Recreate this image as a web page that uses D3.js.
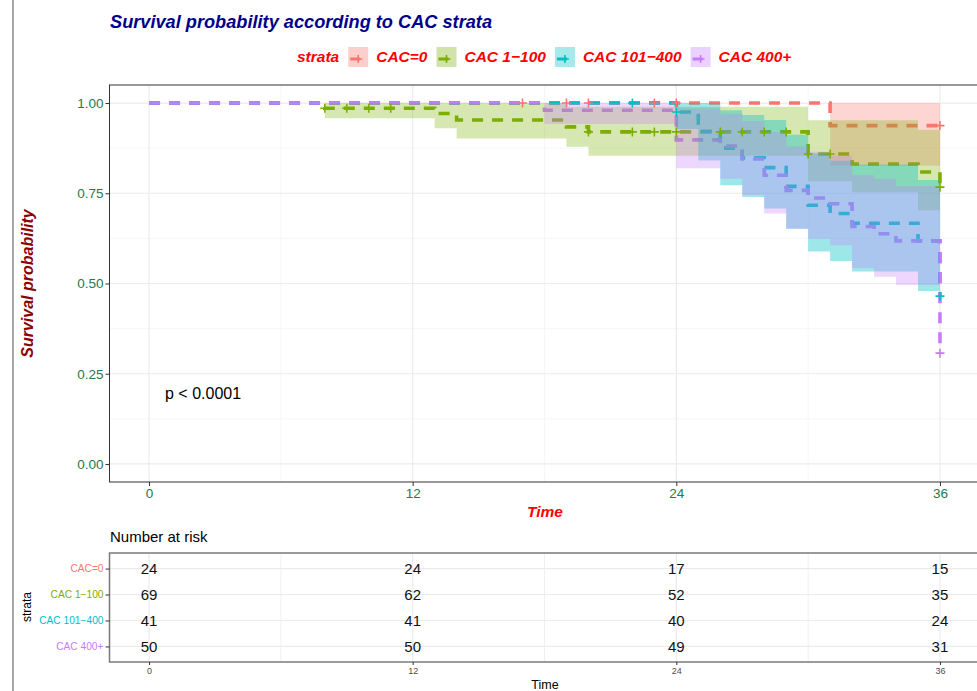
<!DOCTYPE html>
<html><head><meta charset="utf-8">
<script src="https://cdn.jsdelivr.net/npm/d3@7"></script>
<style>
body{margin:0;background:#fff;}
svg{display:block;font-family:"Liberation Sans",Arial,Helvetica,sans-serif;}
</style>
</head><body>
<svg id="chart" width="977" height="691"></svg>
<script>
// ---------------- data ----------------
const strata = ["CAC=0", "CAC 1\u2212100", "CAC 101\u2212400", "CAC 400+"];
const palette = ["#F8766D", "#7CAE00", "#00BFC4", "#C77CFF"];
const fillAlpha = [0.3, 0.3, 0.38, 0.3];

const timeTicks = [0, 12, 24, 36];
const timeMinor = [6, 18, 30];
const survTicks = [0, 0.25, 0.5, 0.75, 1];
const survMinor = [0.125, 0.375, 0.625, 0.875];

// CAC=0
const cac0Time   = [0, 31, 36];
const cac0Surv   = [1, 0.9375, 0.9375];
const cac0Upper  = [1, 1, 1];
const cac0Lower  = [1, 0.826, 0.826];
const cac0Censor = [17, 19, 20, 23, 24, 36];

// CAC 1-100
const cac1Time   = [0, 8, 13, 14, 19, 20, 30, 32, 35, 36];
const cac1Surv   = [1, 0.9855, 0.971, 0.953, 0.934, 0.92, 0.859, 0.831, 0.809, 0.767];
const cac1Upper  = [1, 1, 1, 1, 0.99, 0.99, 0.952, 0.952, 0.926, 0.926];
const cac1Lower  = [1, 0.958, 0.93, 0.902, 0.879, 0.854, 0.783, 0.753, 0.703, 0.703];
const cac1Censor = [8, 9, 10, 11, 20, 22, 23, 24, 26, 27, 28, 29, 30, 31, 36];

// CAC 101-400
const cac2Time   = [0, 24, 25, 26, 27, 28, 29, 30, 31, 32, 35, 36];
const cac2Surv   = [1, 0.975, 0.922, 0.875, 0.848, 0.821, 0.769, 0.717, 0.694, 0.667, 0.618, 0.465];
const cac2Upper  = [1, 1, 1, 0.98, 0.967, 0.953, 0.912, 0.86, 0.84, 0.83, 0.787, 0.787];
const cac2Lower  = [1, 0.928, 0.841, 0.772, 0.74, 0.708, 0.652, 0.589, 0.562, 0.533, 0.479, 0.479];
const cac2Censor = [22, 24, 36];

// CAC 400+
const cac3Time   = [0, 18, 24, 26, 27, 28, 29, 30, 31, 32, 33, 34, 36];
const cac3Surv   = [1, 0.98, 0.898, 0.881, 0.845, 0.80, 0.758, 0.737, 0.721, 0.658, 0.638, 0.618, 0.307];
const cac3Upper  = [1, 1, 0.985, 0.97, 0.95, 0.92, 0.88, 0.865, 0.855, 0.80, 0.79, 0.77, 0.77];
const cac3Lower  = [1, 0.942, 0.819, 0.79, 0.745, 0.694, 0.652, 0.624, 0.606, 0.543, 0.519, 0.496, 0.496];
const cac3Censor = [36];

// number at risk at times 0, 12, 24, 36
const riskCac0 = [24, 24, 17, 15];
const riskCac1 = [69, 62, 52, 35];
const riskCac2 = [41, 41, 40, 24];
const riskCac3 = [50, 50, 49, 31];

const pValueText = "p < 0.0001";

// ---------------- build ----------------
const groups = [
  {t: cac0Time, s: cac0Surv, hi: cac0Upper, lo: cac0Lower, c: cac0Censor, risk: riskCac0},
  {t: cac1Time, s: cac1Surv, hi: cac1Upper, lo: cac1Lower, c: cac1Censor, risk: riskCac1},
  {t: cac2Time, s: cac2Surv, hi: cac2Upper, lo: cac2Lower, c: cac2Censor, risk: riskCac2},
  {t: cac3Time, s: cac3Surv, hi: cac3Upper, lo: cac3Lower, c: cac3Censor, risk: riskCac3}
].map((g, i) => ({
  name: strata[i], color: palette[i], alpha: fillAlpha[i], risk: g.risk,
  pts: g.t.map((t, k) => ({t, s: g.s[k], hi: g.hi[k], lo: g.lo[k]})),
  censor: g.c.map(t => {
    let v = g.s[0];
    g.t.forEach((tt, k) => { if (tt <= t) v = g.s[k]; });
    return {t, s: v};
  })
}));

const svg = d3.select("#chart");
const W = 977, H = 691;
const L = 109.5, R = 979.5;

// left frame line
svg.append("line").attr("x1", 13).attr("x2", 13).attr("y1", 0).attr("y2", H)
  .attr("stroke", "#8a8a8a").attr("stroke-width", 1.5);

const x = d3.scaleLinear().domain([-1.8, 37.8]).range([L, R]);
const y = d3.scaleLinear().domain([-0.05, 1.05]).range([482, 85]);
const PT = 85, PB = 482;

// title
svg.append("text").attr("x", 110).attr("y", 28)
  .attr("font-size", 18.2).attr("font-weight", "bold").attr("font-style", "italic")
  .attr("fill", "#00008B").text("Survival probability according to CAC strata");

// legend
const leg = svg.append("g");
let lx = 297;
const legY = 62;
const st = leg.append("text").attr("x", lx).attr("y", legY)
  .attr("font-size", 15.5).attr("font-weight", "bold").attr("font-style", "italic")
  .attr("fill", "#FF0000").text("strata");
lx += st.node().getComputedTextLength() + 9;
groups.forEach((g, i) => {
  const kx = lx, ky = 47, ks = 20;
  leg.append("rect").attr("x", kx).attr("y", ky).attr("width", ks).attr("height", ks)
    .attr("fill", g.color).attr("fill-opacity", 0.35);
  leg.append("line").attr("x1", kx + 2).attr("x2", kx + 12).attr("y1", ky + 12).attr("y2", ky + 12)
    .attr("stroke", g.color).attr("stroke-width", 3);
  leg.append("path").attr("d", `M${kx+6},${ky+ks/2+2}h8M${kx+10},${ky+ks/2-2}v8`)
    .attr("stroke", g.color).attr("stroke-width", 1.6).attr("fill", "none");
  lx += ks + 8;
  const t = leg.append("text").attr("x", lx).attr("y", legY)
    .attr("font-size", 15.5).attr("font-weight", "bold").attr("font-style", "italic")
    .attr("fill", "#FF0000").text(g.name);
  lx += t.node().getComputedTextLength() + 9;
});

// panel background + grid
const panel = svg.append("g");
panel.append("rect").attr("x", L).attr("y", PT).attr("width", R - L).attr("height", PB - PT).attr("fill", "#fff");
timeMinor.forEach(t => panel.append("line").attr("x1", x(t)).attr("x2", x(t)).attr("y1", PT).attr("y2", PB)
  .attr("stroke", "#f2f2f2").attr("stroke-width", 0.7));
survMinor.forEach(v => panel.append("line").attr("x1", L).attr("x2", R).attr("y1", y(v)).attr("y2", y(v))
  .attr("stroke", "#f2f2f2").attr("stroke-width", 0.7));
timeTicks.forEach(t => panel.append("line").attr("x1", x(t)).attr("x2", x(t)).attr("y1", PT).attr("y2", PB)
  .attr("stroke", "#ebebeb").attr("stroke-width", 1.2));
survTicks.forEach(v => panel.append("line").attr("x1", L).attr("x2", R).attr("y1", y(v)).attr("y2", y(v))
  .attr("stroke", "#ebebeb").attr("stroke-width", 1.2));

svg.append("clipPath").attr("id", "clip").append("rect")
  .attr("x", L).attr("y", PT).attr("width", R - L).attr("height", PB - PT);
const plot = svg.append("g").attr("clip-path", "url(#clip)");

const line = d3.line().x(d => x(d.t)).y(d => y(d.s)).curve(d3.curveStepAfter);
const area = d3.area().x(d => x(d.t)).y0(d => y(d.lo)).y1(d => y(d.hi)).curve(d3.curveStepAfter);

// lines
groups.forEach(g => {
  plot.append("path").attr("d", line(g.pts)).attr("fill", "none")
    .attr("stroke", g.color).attr("stroke-width", 3.6).attr("stroke-dasharray", "11,9");
});
// ribbons on top
groups.forEach(g => {
  plot.append("path").attr("d", area(g.pts)).attr("fill", g.color).attr("fill-opacity", g.alpha);
});
// censor marks
groups.forEach(g => {
  plot.selectAll(null).data(g.censor).enter().append("path")
    .attr("d", d => `M${x(d.t)-4.5},${y(d.s)}h9M${x(d.t)},${y(d.s)-4.5}v9`)
    .attr("stroke", g.color).attr("stroke-width", 1.6).attr("fill", "none");
});

// p-value
svg.append("text").attr("x", 165).attr("y", 399).attr("font-size", 16).attr("fill", "#000").text(pValueText);

// panel border
svg.append("rect").attr("x", L).attr("y", PT).attr("width", R - L).attr("height", PB - PT)
  .attr("fill", "none").attr("stroke", "#333").attr("stroke-width", 1);

// axes
const tickColor = "#247a4a";
const yAxis = svg.append("g").attr("transform", `translate(${L},0)`)
  .call(d3.axisLeft(y).tickValues(survTicks).tickFormat(d3.format(".2f")).tickSize(4).tickPadding(2));
yAxis.select(".domain").remove();
yAxis.selectAll("line").attr("stroke", "#333");
yAxis.selectAll("text").attr("font-size", 13.5).attr("fill", tickColor).attr("font-family", null);

const xAxis = svg.append("g").attr("transform", `translate(0,${PB})`)
  .call(d3.axisBottom(x).tickValues(timeTicks).tickSize(4).tickPadding(2));
xAxis.select(".domain").remove();
xAxis.selectAll("line").attr("stroke", "#333");
xAxis.selectAll("text").attr("font-size", 13.5).attr("fill", tickColor).attr("font-family", null);

svg.append("text").attr("x", 545).attr("y", 517).attr("text-anchor", "middle")
  .attr("font-size", 15.5).attr("font-weight", "bold").attr("font-style", "italic")
  .attr("fill", "#FF0000").text("Time");

svg.append("text").attr("transform", `translate(33,${(PT + PB) / 2}) rotate(-90)`)
  .attr("text-anchor", "middle").attr("font-size", 16).attr("font-weight", "bold").attr("font-style", "italic")
  .attr("fill", "#8B0000").text("Survival probability");

// ---------------- risk table ----------------
const TT = 553, TB = 662;
svg.append("text").attr("x", 110).attr("y", 542).attr("font-size", 15).attr("fill", "#000").text("Number at risk");
const yr = d3.scalePoint().domain(strata).range([TT, TB]).padding(0.6);
const tab = svg.append("g");
tab.append("rect").attr("x", L).attr("y", TT).attr("width", R - L).attr("height", TB - TT).attr("fill", "#fff");
timeMinor.forEach(t => tab.append("line").attr("x1", x(t)).attr("x2", x(t)).attr("y1", TT).attr("y2", TB)
  .attr("stroke", "#f0f0f0").attr("stroke-width", 1));
timeTicks.forEach(t => tab.append("line").attr("x1", x(t)).attr("x2", x(t)).attr("y1", TT).attr("y2", TB)
  .attr("stroke", "#ebebeb").attr("stroke-width", 1.2));
strata.forEach(s => tab.append("line").attr("x1", L).attr("x2", R).attr("y1", yr(s)).attr("y2", yr(s))
  .attr("stroke", "#ebebeb").attr("stroke-width", 1.2));
groups.forEach(g => {
  tab.selectAll(null).data(g.risk).enter().append("text")
    .attr("x", (d, k) => x(timeTicks[k])).attr("y", yr(g.name)).attr("dy", "0.36em")
    .attr("text-anchor", "middle").attr("font-size", 15).attr("fill", "#111").text(d => d);
});
tab.append("rect").attr("x", L).attr("y", TT).attr("width", R - L).attr("height", TB - TT)
  .attr("fill", "none").attr("stroke", "#7a7a7a").attr("stroke-width", 1.5);

const ty = svg.append("g").attr("transform", `translate(${L},0)`)
  .call(d3.axisLeft(yr).tickSize(4).tickPadding(2));
ty.select(".domain").remove();
ty.selectAll("line").attr("stroke", "#333");
ty.selectAll("text").attr("font-size", 10.2).attr("font-family", null)
  .attr("fill", (d, i) => palette[strata.indexOf(d)]);

const tx = svg.append("g").attr("transform", `translate(0,${TB})`)
  .call(d3.axisBottom(x).tickValues(timeTicks).tickSize(3).tickPadding(3));
tx.select(".domain").remove();
tx.selectAll("line").attr("stroke", "#333");
tx.selectAll("text").attr("font-size", 9).attr("fill", "#4d4d4d").attr("font-family", null);

svg.append("text").attr("x", 545).attr("y", 689).attr("text-anchor", "middle")
  .attr("font-size", 12.5).attr("fill", "#000").text("Time");
svg.append("text").attr("transform", `translate(31,607) rotate(-90)`)
  .attr("text-anchor", "middle").attr("font-size", 12).attr("fill", "#000").text("strata");
</script>
</body></html>
